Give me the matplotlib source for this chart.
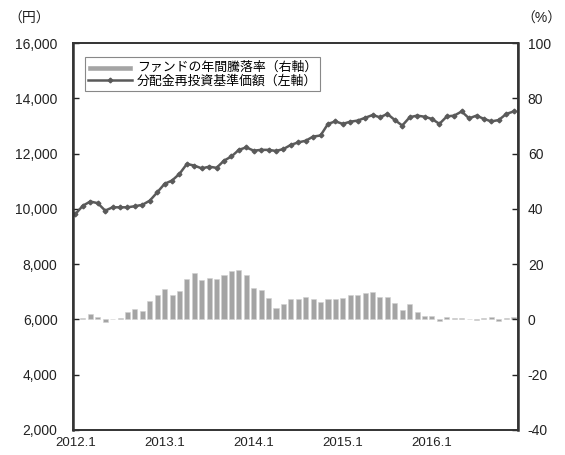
import numpy as np
import matplotlib.pyplot as plt

plt.rcParams['font.family'] = ['Liberation Sans', 'Noto Sans CJK JP']
plt.rcParams['axes.unicode_minus'] = False

# monthly data, 2012.1 - 2016.12
months = np.arange(60)
tick_labels = ["2012.1", "2013.1", "2014.1", "2015.1", "2016.1"]

# 分配金再投資基準価額 (円)
nav = [9820, 10120, 10270, 10210, 9940, 10060, 10060, 10060, 10100, 10150,
       10300, 10600, 10910, 11030, 11270, 11630, 11570, 11470, 11530, 11490,
       11750, 11900, 12140, 12230, 12110, 12140, 12140, 12100, 12170, 12320,
       12410, 12470, 12620, 12660, 13080, 13170, 13080, 13160, 13200, 13300,
       13400, 13320, 13440, 13220, 13020, 13320, 13380, 13340, 13260, 13080,
       13350, 13380, 13530, 13280, 13380, 13260, 13170, 13220, 13440, 13530]

# ファンドの年間騰落率 (%)
ret = [0.3, 0.6, 2.0, 0.8, -0.8, 0.0, 0.5, 2.7, 3.9, 3.1,
       6.7, 8.7, 11.1, 8.7, 10.3, 14.5, 16.7, 14.3, 15.1, 14.5,
       16.1, 17.5, 17.8, 16.1, 11.5, 10.5, 7.9, 4.3, 5.5, 7.3,
       7.3, 8.2, 7.5, 6.4, 7.5, 7.5, 7.9, 8.7, 8.9, 9.7,
       10.0, 8.2, 8.2, 5.8, 3.4, 5.5, 2.7, 1.2, 1.2, -0.6,
       1.0, 0.6, 0.6, 0.0, -0.3, 0.4, 1.0, -0.5, 0.5, 0.8]

fig = plt.figure(figsize=(5.65, 4.55), dpi=100)
ax = fig.add_axes([0.129, 0.055, 0.788, 0.850])
ax2 = ax.twinx()

# bars on the right axis, line on the left axis drawn above
ax.set_zorder(2)
ax.patch.set_visible(False)

bars = ax2.bar(months, ret, width=0.68, color="#a4a4a4", edgecolor="#d0d0d0",
               linewidth=0.4)
line, = ax.plot(months, nav, color="#5a5a5a", lw=1.8, marker="D", ms=2.4,
                mfc="#5a5a5a", mec="#5a5a5a")

ax.set_xlim(-0.35, 59.6)
ax.set_ylim(2000, 16000)
ax2.set_ylim(-40, 100)

ax.set_yticks(np.arange(2000, 16001, 2000))
ax.set_yticklabels([f"{v:,}" for v in range(2000, 16001, 2000)])
ax2.set_yticks(np.arange(-40, 101, 20))

ax.set_xticks(months[::12])
ax.set_xticklabels(tick_labels)

ax.tick_params(axis="y", direction="in", length=4, width=1, pad=11,
               labelsize=10, colors="#222222")
ax2.tick_params(axis="y", direction="in", length=4, width=1, pad=7,
                labelsize=10, colors="#222222")
ax.tick_params(axis="x", length=0, pad=5, labelsize=9.5, colors="#222222")

for a in (ax, ax2):
    for side in ("left", "right", "top", "bottom"):
        a.spines[side].set_color("#333333")
        a.spines[side].set_linewidth(1.2)
ax.spines["left"].set_linewidth(1.8)
ax2.spines["right"].set_linewidth(1.8)

fig.text(0.052, 0.96, "（円）", fontsize=10, ha="center", va="center",
         color="#222222")
fig.text(0.958, 0.96, "（%）", fontsize=10, ha="center", va="center",
         color="#222222")

leg = ax.legend([bars, line],
                ["ファンドの年間騰落率（右軸）", "分配金再投資基準価額（左軸）"],
                loc="upper left", bbox_to_anchor=(0.012, 0.98),
                prop={"family": "Noto Sans CJK JP", "size": 9.3},
                handlelength=3.4, handleheight=0.5, labelspacing=0.05,
                borderpad=0.25, handletextpad=0.4, fancybox=False,
                framealpha=1, edgecolor="#888888")
leg.get_frame().set_linewidth(0.8)
leg.legend_handles[0].set_height(3)
leg.legend_handles[0].set_edgecolor("#a4a4a4")

fig.savefig("out.png", dpi=100)
